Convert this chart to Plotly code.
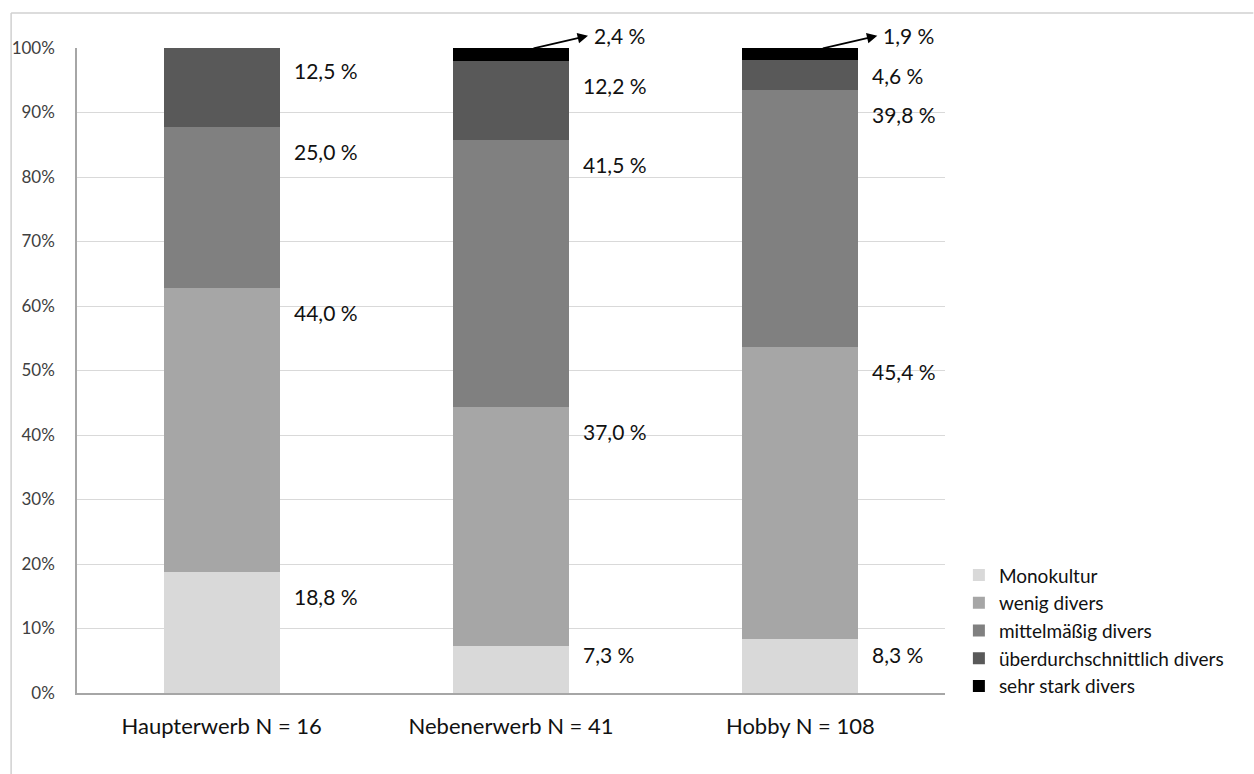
import plotly.graph_objects as go

# Categories and series (shares in percent)
categories = ["Haupterwerb N = 16", "Nebenerwerb N = 41", "Hobby N = 108"]
series_names = ["Monokultur", "wenig divers", "mittelmäßig divers",
                "überdurchschnittlich divers", "sehr stark divers"]
monokultur = [18.8, 7.3, 8.3]
wenig = [44.0, 37.0, 45.4]
mittel = [25.0, 41.5, 39.8]
ueber = [12.5, 12.2, 4.6]
sehr_stark = [0.0, 2.4, 1.9]
y_ticks = [0, 10, 20, 30, 40, 50, 60, 70, 80, 90, 100]

series_values = [monokultur, wenig, mittel, ueber, sehr_stark]
colors = ["#d9d9d9", "#a6a6a6", "#808080", "#595959", "#000000"]

FONT = "Lato, 'Open Sans', sans-serif"
Y_MAX = 100.0

fig = go.Figure()
for name, vals, col in zip(series_names, series_values, colors):
    fig.add_trace(go.Bar(
        x=categories, y=vals, name=name,
        marker=dict(color=col, line=dict(width=0)),
        hoverinfo="x+y+name",
    ))

def fmt(v):
    return f"{v:.1f}".replace(".", ",") + " %"

label_font = dict(family=FONT, size=21, color="#111111")
annotations = []
for ci, cat in enumerate(categories):
    cum = 0.0
    for si, vals in enumerate(series_values):
        v = vals[ci]
        if v <= 0:
            continue
        top = cum + v
        cum = top
        if si == len(series_values) - 1:
            # thin top segment: label sits above the bar, linked by an arrow
            py = 1.019
            annotations.append(dict(
                x=cat, y=py, yref="paper", text=fmt(v), showarrow=False,
                xanchor="left", yanchor="middle", xshift=81,
                font=label_font,
            ))
            annotations.append(dict(
                x=cat, y=py, yref="paper", text="", showarrow=True,
                xshift=77, ax=-56, ay=13,
                arrowhead=2, arrowsize=1.3, arrowwidth=1.6, arrowcolor="#000000",
            ))
            continue
        ly = max(top - min(3.8, v / 2), 6.0)
        annotations.append(dict(
            x=cat, y=ly / Y_MAX, yref="paper", text=fmt(v), showarrow=False,
            xanchor="left", yanchor="middle", xshift=70,
            font=label_font,
        ))

fig.update_layout(
    barmode="stack",
    bargap=0.6,
    width=1254, height=774,
    margin=dict(l=75, r=309, t=48, b=81),
    paper_bgcolor="white", plot_bgcolor="white",
    font=dict(family=FONT, size=17, color="#404040"),
    legend=dict(
        traceorder="normal", x=1.016, y=0.212, xanchor="left", yanchor="top",
        font=dict(family=FONT, size=19, color="#111111"),
        itemwidth=30, tracegroupgap=0, bgcolor="rgba(0,0,0,0)",
    ),
    annotations=annotations,
    shapes=[
        dict(type="line", xref="paper", yref="paper",
             x0=-0.0759, x1=1.3552, y0=1.0543, y1=1.0543,
             line=dict(color="#d0d0d0", width=1.5)),
        dict(type="line", xref="paper", yref="paper",
             x0=-0.0759, x1=-0.0759, y0=1.0543, y1=-0.1256,
             line=dict(color="#d0d0d0", width=1.5)),
    ],
    showlegend=True,
)

fig.update_yaxes(
    range=[0, Y_MAX], tickvals=y_ticks, ticktext=[f"{t}%" for t in y_ticks],
    showgrid=True, gridcolor="#d9d9d9", gridwidth=1,
    showline=True, linecolor="#a6a6a6", linewidth=1.5,
    zeroline=False, ticks="", ticklabelstandoff=17,
    tickfont=dict(family=FONT, size=17, color="#404040"),
)
fig.update_xaxes(
    showline=True, linecolor="#a6a6a6", linewidth=1.5,
    ticks="", tickfont=dict(family=FONT, size=22, color="#111111"),
    ticklabelstandoff=13,
)

fig.write_html("out.html")
